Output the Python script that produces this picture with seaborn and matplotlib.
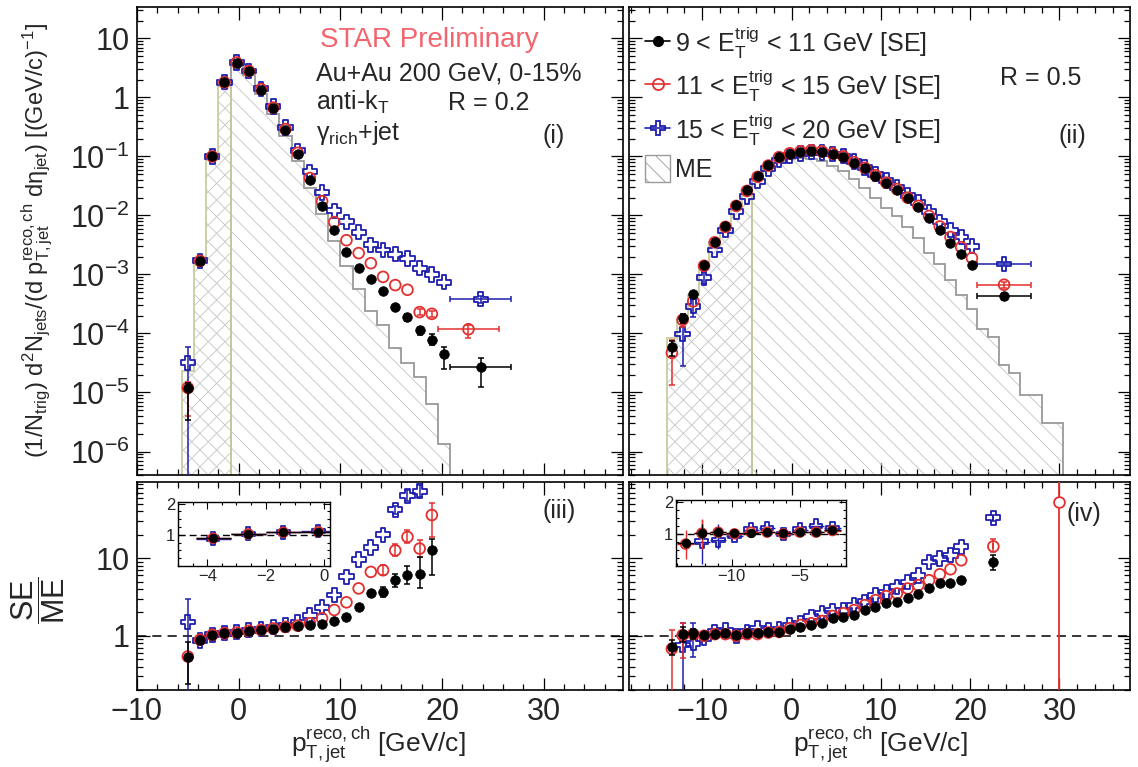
import numpy as np
import matplotlib
matplotlib.use("Agg")
import matplotlib.pyplot as plt
import seaborn as sns
from matplotlib.ticker import (LogLocator, MultipleLocator, NullFormatter,
                               FuncFormatter, FixedLocator)
from matplotlib.lines import Line2D
from matplotlib.patches import Patch

# ======================= DATA =======================
# ---- R = 0.2 : panel (i) spectra, panel (iii) ratios ----
x_r02 = [-5.0, -3.8, -2.6, -1.4, -0.2, 1.0, 2.2, 3.4, 4.6, 5.8, 7.0, 8.2,
         9.4, 10.6, 11.8, 13.0, 14.2, 15.4, 16.6, 17.8, 19.0, 20.2]
se9_r02 = [1.2e-5, 1.7e-3, 0.10, 1.8, 3.9, 2.8, 1.35, 0.65, 0.28, 0.11, 0.040,
           0.0145, 5.6e-3, 2.4e-3, 1.3e-3, 8.3e-4, 5.2e-4, 2.8e-4, 1.9e-4,
           1.13e-4, 7.9e-5, 4.5e-5]
se11_r02 = [1.2e-5, 1.7e-3, 0.10, 1.8, 3.9, 2.8, 1.38, 0.67, 0.29, 0.115, 0.043,
            0.0174, 7.7e-3, 3.8e-3, 2.3e-3, 1.55e-3, 9.1e-4, 6.6e-4, 5.5e-4,
            2.3e-4, 2.15e-4]
se15_r02 = [3.2e-5, 1.7e-3, 0.10, 1.8, 3.9, 2.8, 1.4, 0.70, 0.31, 0.125, 0.055,
            0.0245, 0.012, 7.8e-3, 5.2e-3, 3.2e-3, 2.6e-3, 2.2e-3, 1.86e-3,
            1.27e-3, 1.0e-3, 7.4e-4]
me_edges_r02 = [-5.6, -4.4, -3.2, -2.0, -0.8, 0.4, 1.6, 2.8, 4.0, 5.2, 6.4, 7.6,
                8.8, 10.0, 11.2, 12.4, 13.6, 14.8, 16.0, 17.2, 18.4, 19.6, 20.8]
me_r02 = [2.3e-5, 1.9e-3, 0.097, 1.67, 3.5, 2.4, 1.13, 0.53, 0.22, 0.083, 0.029,
          0.0104, 3.7e-3, 1.4e-3, 5.6e-4, 2.4e-4, 1.4e-4, 5.6e-5, 3.2e-5,
          1.8e-5, 6.5e-6, 1.35e-6]
# wide last bins (x, half width, y, err_lo, err_hi)
wide9_r02 = [23.8, 3.0, 2.7e-5, 1.45e-5, 1.1e-5]
wide11_r02 = [22.6, 3.0, 1.18e-4, 3.5e-5, 2.2e-5]
wide15_r02 = [23.8, 3.0, 3.8e-4, 5e-5, 5e-5]
# visible vertical errors (index, low, high)
eidx9_r02 = [0, 18, 19, 20, 21]
elo9_r02 = [8.6e-6, 2.5e-5, 1.8e-5, 1.6e-5, 2.0e-5]
ehi9_r02 = [2.6e-6, 2.5e-5, 1.8e-5, 1.8e-5, 1.3e-5]
eidx11_r02 = [0, 19, 20]
elo11_r02 = [8e-6, 2.5e-5, 2.5e-5]
ehi11_r02 = [3e-6, 2.5e-5, 2.5e-5]
eidx15_r02 = [0]
elo15_r02 = [3.19e-5]
ehi15_r02 = [2.8e-5]

# SE/ME ratios, R = 0.2
rx_r02 = [-5.0, -3.8, -2.6, -1.4, -0.2, 1.0, 2.2, 3.4, 4.6, 5.8, 7.0, 8.2,
          9.4, 10.6, 11.8, 13.0, 14.2, 15.4, 16.6, 17.8, 19.0]
r9_r02 = [0.54, 0.89, 1.03, 1.08, 1.10, 1.16, 1.19, 1.23, 1.28, 1.32, 1.36,
          1.40, 1.53, 1.77, 2.38, 3.52, 3.7, 5.2, 6.0, 6.2, 12.6]
r11_r02 = [0.54, 0.89, 1.03, 1.08, 1.10, 1.16, 1.19, 1.24, 1.30, 1.35, 1.45,
           1.68, 2.15, 2.7, 4.08, 6.66, 7.0, 12.6, 18.8, 13.3, 36.0]
r15_r02 = [1.5, 0.87, 1.03, 1.08, 1.12, 1.18, 1.22, 1.30, 1.38, 1.48, 1.82,
           2.33, 3.35, 5.76, 9.6, 13.7, 20.0, 42.0, 64.0, 73.0]
reidx9_r02 = [0, 16, 17, 18, 19, 20]
relo9_r02 = [0.3, 0.5, 0.9, 1.3, 2.1, 6.6]
rehi9_r02 = [0.3, 0.6, 1.0, 2.0, 4.2, 5.3]
reidx11_r02 = [16, 17, 18, 19, 20]
relo11_r02 = [1.0, 2.0, 3.0, 3.0, 17.0]
rehi11_r02 = [1.2, 2.5, 4.0, 4.0, 16.0]
reidx15_r02 = [0, 17, 18, 19]
relo15_r02 = [1.45, 5.0, 10.0, 12.0]
rehi15_r02 = [1.5, 5.0, 12.0, 15.0]

# ---- R = 0.5 : panel (ii) spectra, panel (iv) ratios ----
x_r05 = [-13.4, -12.2, -11.0, -9.8, -8.6, -7.4, -6.2, -5.0, -3.8, -2.6, -1.4,
         -0.2, 1.0, 2.2, 3.4, 4.6, 5.8, 7.0, 8.2, 9.4, 10.6, 11.8, 13.0, 14.2,
         15.4, 16.6, 17.8, 19.0, 20.2]
se9_r05 = [6.0e-5, 1.8e-4, 4.7e-4, 1.45e-3, 3.6e-3, 6.5e-3, 0.015, 0.027,
           0.046, 0.072, 0.097, 0.112, 0.12, 0.125, 0.12, 0.11, 0.099, 0.078,
           0.063, 0.047, 0.035, 0.027, 0.0195, 0.014, 9.0e-3, 5.6e-3, 3.4e-3,
           2.2e-3, 1.45e-3]
se11_r05 = [4.7e-5, 1.7e-4, 3.5e-4, 1.4e-3, 3.5e-3, 6.4e-3, 0.0145, 0.026,
            0.045, 0.070, 0.097, 0.113, 0.122, 0.127, 0.122, 0.112, 0.10, 0.08,
            0.064, 0.048, 0.036, 0.028, 0.020, 0.0145, 9.8e-3, 6.5e-3, 4.3e-3,
            2.9e-3, 1.9e-3]
se15_r05 = [np.nan, 9.8e-5, 2.9e-4, 8.9e-4, 2.6e-3, 5.6e-3, 0.0115, 0.021,
            0.038, 0.062, 0.086, 0.103, 0.112, 0.118, 0.117, 0.11, 0.102,
            0.082, 0.065, 0.050, 0.039, 0.030, 0.022, 0.0165, 0.0115, 7.8e-3,
            5.6e-3, 4.3e-3, 3.0e-3]
me_edges_r05 = [-14.0, -12.8, -11.6, -10.4, -9.2, -8.0, -6.8, -5.6, -4.4,
                -3.2, -2.0, -0.8, 0.4, 1.6, 2.8, 4.0, 5.2, 6.4, 7.6, 8.8, 10.0,
                11.2, 12.4, 13.6, 14.8, 16.0, 17.2, 18.4, 19.6, 20.8, 22.0,
                23.2, 24.4, 25.6, 26.8, 28.0, 29.2, 30.4]
me_r05 = [8.3e-5, 1.73e-4, 4.4e-4, 1.42e-3, 3.5e-3, 6.1e-3, 0.0147, 0.025,
          0.043, 0.064, 0.085, 0.092, 0.093, 0.091, 0.083, 0.068, 0.056, 0.042,
          0.029, 0.020, 0.0134, 9.9e-3, 6.4e-3, 4.1e-3, 2.3e-3, 1.5e-3, 8.0e-4,
          4.4e-4, 2.6e-4, 1.17e-4, 8.7e-5, 2.9e-5, 2.1e-5, 9.1e-6, 9.1e-6,
          3.0e-6, 3.0e-6]
wide9_r05 = [23.8, 3.0, 4.3e-4, 6e-5, 6e-5]
wide11_r05 = [23.8, 3.0, 6.7e-4, 7e-5, 7e-5]
wide15_r05 = [23.8, 3.0, 1.5e-3, 1e-4, 1e-4]
eidx9_r05 = [0, 1]
elo9_r05 = [1.8e-5, 3e-5]
ehi9_r05 = [1.5e-5, 3e-5]
eidx11_r05 = [0, 1]
elo11_r05 = [3.35e-5, 4e-5]
ehi11_r05 = [3.1e-5, 4e-5]
eidx15_r05 = [1, 2, 3]
elo15_r05 = [7e-5, 1e-4, 2e-4]
ehi15_r05 = [5e-5, 1e-4, 2e-4]

rx_r05 = [-13.4, -12.2, -11.0, -9.8, -8.6, -7.4, -6.2, -5.0, -3.8, -2.6, -1.4,
          -0.2, 1.0, 2.2, 3.4, 4.6, 5.8, 7.0, 8.2, 9.4, 10.6, 11.8, 13.0, 14.2,
          15.4, 16.6, 17.8, 19.0]
r9_r05 = [0.72, 1.04, 1.07, 1.02, 1.04, 1.07, 1.02, 1.07, 1.07, 1.13, 1.11,
          1.21, 1.31, 1.37, 1.44, 1.67, 1.76, 1.85, 2.14, 2.36, 2.61, 2.74,
          3.03, 3.44, 4.19, 4.72, 4.72, 5.2]
r11_r05 = [0.68, 1.02, 1.05, 1.0, 1.05, 1.05, 1.0, 1.05, 1.05, 1.1, 1.12,
           1.25, 1.38, 1.45, 1.55, 1.8, 1.95, 2.14, 2.48, 2.88, 3.24, 3.51,
           4.07, 4.49, 5.2, 6.2, 7.2, 9.4]
r15_r05 = [np.nan, 0.76, 0.80, 0.93, 1.13, 1.18, 0.99, 1.13, 1.25, 1.18, 1.21,
           1.37, 1.44, 1.76, 1.94, 2.1, 2.14, 2.48, 2.74, 3.34, 3.68, 4.27,
           4.95, 6.0, 8.95, 9.9, 10.9, 14.0]
rwide_x_r05 = 22.6
rwide_r05 = [8.95, 14.2, 33.3]          # 9-11, 11-15, 15-20
rwide_lo_r05 = [1.9, 2.2, 3.0]
rwide_hi_r05 = [2.0, 3.3, 3.0]
rlast_r05 = [30.0, 53.0]                # lone 11-15 point
reidx9_r05 = [0, 1, 2]
relo9_r05 = [0.15, 0.2, 0.15]
rehi9_r05 = [0.15, 0.25, 0.15]
reidx11_r05 = [0, 1]
relo11_r05 = [0.67, 0.5]
rehi11_r05 = [0.5, 0.45]
reidx15_r05 = [1, 2]
relo15_r05 = [0.75, 0.26]
rehi15_r05 = [0.68, 0.64]

leg_labels = [r'9 < $\mathrm{E}_{\mathrm{T}}^{\mathrm{trig}}$ < 11 GeV [SE]',
              r'11 < $\mathrm{E}_{\mathrm{T}}^{\mathrm{trig}}$ < 15 GeV [SE]',
              r'15 < $\mathrm{E}_{\mathrm{T}}^{\mathrm{trig}}$ < 20 GeV [SE]',
              'ME']

# ======================= STYLE =======================
sns.set_theme(style="ticks")
plt.rcParams['font.family'] = ['Liberation Sans', 'DejaVu Sans']
plt.rcParams['mathtext.fontset'] = 'custom'
plt.rcParams['mathtext.rm'] = 'Liberation Sans'
plt.rcParams['mathtext.it'] = 'Liberation Sans:italic'
plt.rcParams['mathtext.bf'] = 'Liberation Sans:bold'
plt.rcParams['mathtext.sf'] = 'Liberation Sans'
plt.rcParams['hatch.linewidth'] = 0.6
plt.rcParams['axes.unicode_minus'] = True

BLACK = '#000000'
RED = '#e3302f'
BLUE = '#1e1eae'
GRAY = '#9a9a9a'
OLIVE = '#c9cc9c'
HATCH = '#c4c4c4'
STAR = '#f2646e'

ST9 = dict(color=BLACK, face=BLACK, marker='o', s=48, lw=0.5)
ST11 = dict(color=RED, face='none', marker='o', s=60, lw=1.3)
ST15 = dict(color=BLUE, face='none', marker='P', s=105, lw=1.3)

W, H = 1138, 767
fig = plt.figure(figsize=(W / 100, H / 100), dpi=100)


def fr(l, t, r, b):
    return [l / W, 1 - b / H, (r - l) / W, (b - t) / H]


ax1 = fig.add_axes(fr(137, 7, 623, 475))
ax2 = fig.add_axes(fr(629, 7, 1130, 475))
ax3 = fig.add_axes(fr(137, 482, 623, 690))
ax4 = fig.add_axes(fr(629, 482, 1130, 690))


def log_fmt(v, pos):
    e = int(round(np.log10(v)))
    if e == 1:
        return '10'
    if e == 0:
        return '1'
    return r'$10^{%d}$' % e


def style(ax, xlim, ylim, xlabels, ylabels, majors, fs=22):
    ax.set_facecolor('white')
    ax.set_yscale('log')
    ax.set_xlim(*xlim)
    ax.set_ylim(*ylim)
    for sp in ax.spines.values():
        sp.set_visible(True)
        sp.set_color('black')
        sp.set_linewidth(1.2)
    ax.xaxis.set_major_locator(MultipleLocator(10))
    ax.xaxis.set_minor_locator(MultipleLocator(2))
    ax.yaxis.set_major_locator(FixedLocator(majors))
    ax.yaxis.set_minor_locator(LogLocator(base=10, subs=np.arange(2, 10), numticks=30))
    ax.yaxis.set_minor_formatter(NullFormatter())
    ax.yaxis.set_major_formatter(FuncFormatter(log_fmt))
    ax.tick_params(which='both', direction='in', top=True, right=True,
                   bottom=True, left=True, color='black', width=0.9,
                   labelsize=fs, labelbottom=xlabels, labelleft=ylabels)
    ax.tick_params(which='major', length=9)
    ax.tick_params(which='minor', length=4.5)
    ax.tick_params(axis='x', pad=5)
    ax.tick_params(axis='y', pad=5)
    ax.set_xlabel('')
    ax.set_ylabel('')


def draw_me(ax, edges, vals, n_olive):
    edges = np.asarray(edges, float)
    vals = np.asarray(vals, float)
    base = 1e-12
    ax.stairs(vals, edges, baseline=base, fill=True, facecolor='none',
              edgecolor=HATCH, hatch='\\\\', linewidth=0, zorder=1)
    ax.stairs(vals[:n_olive], edges[:n_olive + 1], baseline=base, fill=True,
              facecolor='none', edgecolor=HATCH, hatch='//', linewidth=0, zorder=1)
    ax.stairs(vals[n_olive:], edges[n_olive:], baseline=base, fill=False,
              edgecolor=GRAY, linewidth=1.3, zorder=2)
    ax.stairs(vals[:n_olive], edges[:n_olive + 1], baseline=base, fill=False,
              edgecolor=OLIVE, linewidth=1.3, zorder=2.1)


def series(ax, x, y, st, eidx=None, elo=None, ehi=None, z=5):
    x = np.asarray(x, float)
    y = np.asarray(y, float)
    c = st['color']
    if eidx is not None:
        idx = np.asarray(eidx, int)
        ax.errorbar(x[idx], y[idx], yerr=[elo, ehi], fmt='none', ecolor=c,
                    elinewidth=1.1, capsize=2.5, capthick=1.1, zorder=z)
    sns.scatterplot(x=x, y=y, ax=ax, marker=st['marker'], s=st['s'],
                    color=st['face'], edgecolor=c, linewidth=st['lw'],
                    zorder=z + 1, legend=False)


def wide(ax, w, st, z=5):
    ax.errorbar([w[0]], [w[2]], xerr=[[w[1]], [w[1]]], yerr=[[w[3]], [w[4]]],
                fmt='none', ecolor=st['color'], elinewidth=1.1, capsize=2.5,
                capthick=1.1, zorder=z)
    sns.scatterplot(x=[w[0]], y=[w[2]], ax=ax, marker=st['marker'], s=st['s'],
                    color=st['face'], edgecolor=st['color'], linewidth=st['lw'],
                    zorder=z + 1, legend=False)


top_majors = [1e-6, 1e-5, 1e-4, 1e-3, 1e-2, 1e-1, 1, 10]
bot_majors = [1, 10]

# ---------------- panel (i) ----------------
draw_me(ax1, me_edges_r02, me_r02, 4)
series(ax1, x_r02, se15_r02, ST15, eidx15_r02, elo15_r02, ehi15_r02, z=5)
series(ax1, x_r02[:len(se11_r02)], se11_r02, ST11, eidx11_r02, elo11_r02, ehi11_r02, z=6)
series(ax1, x_r02, se9_r02, ST9, eidx9_r02, elo9_r02, ehi9_r02, z=7)
wide(ax1, wide15_r02, ST15, 5)
wide(ax1, wide11_r02, ST11, 6)
wide(ax1, wide9_r02, ST9, 7)
style(ax1, (-10, 37.8), (4e-7, 34), False, True, top_majors)

# ---------------- panel (ii) ----------------
draw_me(ax2, me_edges_r05, me_r05, 8)
series(ax2, x_r05, se15_r05, ST15, eidx15_r05, elo15_r05, ehi15_r05, z=5)
series(ax2, x_r05, se11_r05, ST11, eidx11_r05, elo11_r05, ehi11_r05, z=6)
series(ax2, x_r05, se9_r05, ST9, eidx9_r05, elo9_r05, ehi9_r05, z=7)
wide(ax2, wide15_r05, ST15, 5)
wide(ax2, wide11_r05, ST11, 6)
wide(ax2, wide9_r05, ST9, 7)
style(ax2, (-18.2, 37.9), (4e-7, 34), False, False, top_majors)

# ---------------- panel (iii) ----------------
for ax in (ax3, ax4):
    ax.axhline(1, color='black', lw=1.1, ls=(0, (6, 4)), zorder=1)
series(ax3, rx_r02[:len(r15_r02)], r15_r02, ST15, reidx15_r02, relo15_r02, rehi15_r02, z=5)
series(ax3, rx_r02, r11_r02, ST11, reidx11_r02, relo11_r02, rehi11_r02, z=6)
series(ax3, rx_r02, r9_r02, ST9, reidx9_r02, relo9_r02, rehi9_r02, z=7)
style(ax3, (-10, 37.8), (0.2, 96), True, True, bot_majors)

# ---------------- panel (iv) ----------------
series(ax4, rx_r05, r15_r05, ST15, reidx15_r05, relo15_r05, rehi15_r05, z=5)
series(ax4, rx_r05, r11_r05, ST11, reidx11_r05, relo11_r05, rehi11_r05, z=6)
series(ax4, rx_r05, r9_r05, ST9, reidx9_r05, relo9_r05, rehi9_r05, z=7)
for val, lo, hi, st, z in zip(rwide_r05, rwide_lo_r05, rwide_hi_r05,
                              (ST9, ST11, ST15), (7, 6, 5)):
    wide(ax4, [rwide_x_r05, 0.0, val, lo, hi], st, z)
ax4.errorbar([rlast_r05[0]], [rlast_r05[1]], yerr=[[rlast_r05[1] - 1e-3], [1e4]],
             fmt='none', ecolor=RED, elinewidth=1.3, zorder=6)
sns.scatterplot(x=[rlast_r05[0]], y=[rlast_r05[1]], ax=ax4, marker='o', s=60,
                color='white', edgecolor=RED, linewidth=1.3, zorder=8, legend=False)
style(ax4, (-18.2, 37.9), (0.2, 96), True, False, bot_majors)


# ---------------- insets ----------------
def inset(rect, xlim, idx, rx, r9, r11, r15, ex, major, minor):
    ai = fig.add_axes(rect)
    ai.set_facecolor('white')
    ai.set_zorder(10)
    ai.axhline(1, color='black', lw=1.0, ls=(0, (5, 3)), zorder=1)
    sel = np.asarray(idx, int)
    xs = np.asarray(rx, float)[sel]
    for arr, st, z in ((r15, ST15, 5), (r11, ST11, 6), (r9, ST9, 7)):
        a = np.asarray(list(arr) + [np.nan] * 40, float)[sel]
        lo, hi = ex.get(st['color'], (None, None))
        yerr = None
        if lo is not None:
            yerr = [lo, hi]
        ai.errorbar(xs, a, xerr=0.6, yerr=yerr, fmt='none', ecolor=st['color'],
                    elinewidth=1.0, capsize=0, zorder=z)
        sns.scatterplot(x=xs, y=a, ax=ai, marker=st['marker'], s=st['s'] * 0.8,
                        color=st['face'], edgecolor=st['color'],
                        linewidth=st['lw'], zorder=z + 1, legend=False)
    ai.set_xlim(*xlim)
    ai.set_ylim(0.0, 2.05)
    for sp in ai.spines.values():
        sp.set_visible(True)
        sp.set_color('black')
        sp.set_linewidth(1.0)
    ai.xaxis.set_major_locator(MultipleLocator(major))
    ai.xaxis.set_minor_locator(MultipleLocator(minor))
    ai.yaxis.set_major_locator(FixedLocator([1, 2]))
    ai.yaxis.set_minor_locator(MultipleLocator(0.25))
    ai.tick_params(which='both', direction='in', top=True, right=True,
                   color='black', width=0.8, labelsize=12, pad=2)
    ai.tick_params(which='major', length=5)
    ai.tick_params(which='minor', length=2.5)
    ai.set_xlabel('')
    ai.set_ylabel('')
    return ai


inset(fr(178, 502, 330, 566), (-5.0, 0.2), [1, 2, 3, 4], rx_r02,
      r9_r02, r11_r02, r15_r02, {}, 2, 0.5)
ex_r05 = {
    BLACK: ([0.15, 0.2, 0.15, 0, 0, 0, 0, 0, 0, 0], [0.15, 0.25, 0.15, 0, 0, 0, 0, 0, 0, 0]),
    RED: ([0.45, 0.5, 0, 0, 0, 0, 0, 0, 0, 0], [0.45, 0.45, 0, 0, 0, 0, 0, 0, 0, 0]),
    BLUE: ([0, 0.7, 0.26, 0, 0, 0, 0, 0, 0, 0], [0, 0.68, 0.5, 0, 0, 0, 0, 0, 0, 0]),
}
inset(fr(676, 500, 846, 566), (-14.1, -1.6), list(range(10)), rx_r05,
      r9_r05, r11_r05, r15_r05, ex_r05, 5, 1)

# ---------------- legend ----------------
handles = [
    Line2D([], [], color=BLACK, marker='o', markersize=7, lw=1.2),
    Line2D([], [], color=RED, marker='o', markersize=8, lw=1.2,
           markerfacecolor='none', markeredgewidth=1.3),
    Line2D([], [], color=BLUE, marker='P', markersize=10, lw=1.2,
           markerfacecolor='none', markeredgewidth=1.3),
    Patch(facecolor='white', edgecolor=GRAY, hatch='\\\\', linewidth=1.0),
]
leg = ax2.legend(handles, leg_labels, loc='upper left',
                 bbox_to_anchor=(645 / W, 1 - 24 / H),
                 bbox_transform=fig.transFigure, frameon=False, fontsize=18,
                 handlelength=1.0, handleheight=1.3, handletextpad=0.2,
                 labelspacing=0.28, borderpad=0.0, borderaxespad=0.0)
leg.set_zorder(20)


# ---------------- text ----------------
def ftxt(px, py, s, **kw):
    fig.text(px / W, 1 - py / H, s, **kw)


ftxt(320, 47, 'STAR Preliminary', fontsize=20, color=STAR, va='baseline')
ftxt(316, 80, 'Au+Au 200 GeV, 0-15%', fontsize=18, va='baseline')
ftxt(316, 110, r'anti-k$_{\mathrm{T}}$', fontsize=18, va='baseline')
ftxt(448, 110, 'R = 0.2', fontsize=18, va='baseline')
ftxt(316, 140, r'$\mathrm{\gamma}_{\mathrm{rich}}$+jet', fontsize=18, va='baseline')
ftxt(543, 143, '(i)', fontsize=18, va='baseline')
ftxt(1000, 85, 'R = 0.5', fontsize=18, va='baseline')
ftxt(1058, 143, '(ii)', fontsize=18, va='baseline')
ftxt(543, 518, '(iii)', fontsize=18, va='baseline')
ftxt(1066, 521, '(iv)', fontsize=18, va='baseline')

ftxt(37, 240, r'(1/N$_{\mathrm{trig}}$) d$^{2}$N$_{\mathrm{jets}}$/(d p$_{\mathrm{T,jet}}^{\mathrm{reco,ch}}$ d$\mathrm{\eta}_{\mathrm{jet}}$) [(GeV/c)$^{-1}$]',
     fontsize=17, rotation=90, ha='center', va='center')
ftxt(38, 600, r'$\dfrac{\mathrm{SE}}{\mathrm{ME}}$', fontsize=22, rotation=90,
     ha='center', va='center')
xl = r'p$_{\mathrm{T,jet}}^{\mathrm{reco,ch}}$ [GeV/c]'
ftxt(378, 753, xl, fontsize=19, ha='center', va='baseline')
ftxt(880, 753, xl, fontsize=19, ha='center', va='baseline')

fig.savefig('out.png', dpi=100, facecolor='white')
